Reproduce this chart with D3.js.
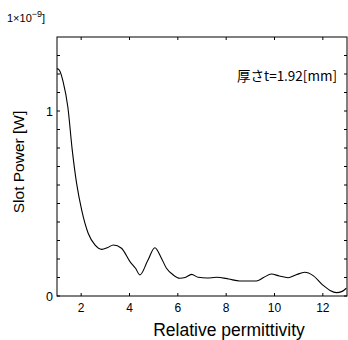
<!DOCTYPE html>
<html>
<head>
<meta charset="utf-8">
<script src="https://cdn.jsdelivr.net/npm/d3@7"></script>
<style>
  body { margin: 0; background: #fff; }
  svg { display: block; font-family: "Liberation Sans", Arial, sans-serif; }
</style>
</head>
<body>
<svg id="chart" width="348" height="340"></svg>
<script>
// permittivity vs slot power (x1e-9 W)
var permittivity = [1.0, 1.1, 1.25, 1.45, 1.63, 1.81, 2.02, 2.29, 2.57, 2.85, 3.1, 3.33, 3.67, 4.02, 4.25, 4.43, 4.75, 5.05, 5.3, 5.53, 5.8, 6.08, 6.3, 6.57, 6.84, 7.2, 7.6, 8.1, 8.56, 9.25, 9.55, 9.87, 10.2, 10.56, 10.9, 11.25, 11.6, 12.0, 12.3, 12.56, 12.8, 12.97];
var slotPower = [1.23, 1.22, 1.16, 1.02, 0.79, 0.61, 0.465, 0.339, 0.276, 0.252, 0.262, 0.276, 0.258, 0.186, 0.15, 0.114, 0.19, 0.261, 0.21, 0.15, 0.115, 0.096, 0.1, 0.117, 0.101, 0.097, 0.101, 0.092, 0.081, 0.081, 0.1, 0.119, 0.108, 0.099, 0.115, 0.128, 0.11, 0.059, 0.03, 0.018, 0.025, 0.042];
var xTicks = [2, 4, 6, 8, 10, 12];
var yTicks = [0, 0.1, 0.2, 0.3, 0.4, 0.5, 0.6, 0.7, 0.8, 0.9, 1, 1.1, 1.2, 1.3];
var yLabels = {0: "0", 1: "1"};

var svg = d3.select("#chart");
var mLeft = 57, mRight = 347, mTop = 37, mBottom = 296;

var x = d3.scaleLinear().domain([1, 13]).range([mLeft, mRight]);
var y = d3.scaleLinear().domain([0, 1.4]).range([mBottom, mTop]);

// ticks pointing inward on all four sides
var tl = 3;
svg.append("g").selectAll("line").data(xTicks).enter().append("line")
  .attr("x1", d => x(d)).attr("x2", d => x(d))
  .attr("y1", mBottom).attr("y2", mBottom - tl)
  .attr("stroke", "#000");
svg.append("g").selectAll("line").data(xTicks).enter().append("line")
  .attr("x1", d => x(d)).attr("x2", d => x(d))
  .attr("y1", mTop).attr("y2", mTop + tl)
  .attr("stroke", "#000");
svg.append("g").selectAll("line").data(yTicks).enter().append("line")
  .attr("x1", mLeft).attr("x2", mLeft + tl)
  .attr("y1", d => y(d)).attr("y2", d => y(d))
  .attr("stroke", "#000");
svg.append("g").selectAll("line").data(yTicks).enter().append("line")
  .attr("x1", mRight).attr("x2", mRight - tl)
  .attr("y1", d => y(d)).attr("y2", d => y(d))
  .attr("stroke", "#000");

svg.append("rect")
  .attr("x", mLeft).attr("y", mTop)
  .attr("width", mRight - mLeft).attr("height", mBottom - mTop)
  .attr("fill", "none").attr("stroke", "#000").attr("stroke-width", 1);

svg.append("g").selectAll("text").data(xTicks).enter().append("text")
  .attr("x", d => x(d)).attr("y", mBottom + 16)
  .attr("text-anchor", "middle").attr("font-size", 12)
  .text(d => d);

svg.append("g").selectAll("text").data(yTicks.filter(d => yLabels[d] !== undefined)).enter().append("text")
  .attr("x", mLeft - 4).attr("y", d => y(d) + 4.5)
  .attr("text-anchor", "end").attr("font-size", 12.5)
  .text(d => yLabels[d]);

var line = d3.line()
  .x((d, i) => x(permittivity[i]))
  .y(d => y(d))
  .curve(d3.curveMonotoneX);

svg.append("path")
  .datum(slotPower)
  .attr("fill", "none")
  .attr("stroke", "#000")
  .attr("stroke-width", 1.1)
  .attr("d", line);

svg.append("text")
  .attr("x", 229).attr("y", 336)
  .attr("text-anchor", "middle").attr("font-size", 17.5)
  .text("Relative permittivity");

svg.append("text")
  .attr("transform", "translate(24,162) rotate(-90)")
  .attr("text-anchor", "middle").attr("font-size", 15.5)
  .text("Slot Power [W]");

var exp = svg.append("text").attr("x", 7).attr("y", 22).attr("font-size", 11);
exp.append("tspan").text("1×10");
exp.append("tspan").attr("dy", -5).attr("font-size", 9).text("−9");
exp.append("tspan").attr("dy", 5).text("]");

svg.append("text")
  .attr("x", 337).attr("y", 81)
  .attr("text-anchor", "end").attr("font-size", 13.5)
  .style("font-family", "'Noto Sans CJK JP', 'Liberation Sans', sans-serif")
  .text("厚さt=1.92[mm]");
</script>
</body>
</html>
